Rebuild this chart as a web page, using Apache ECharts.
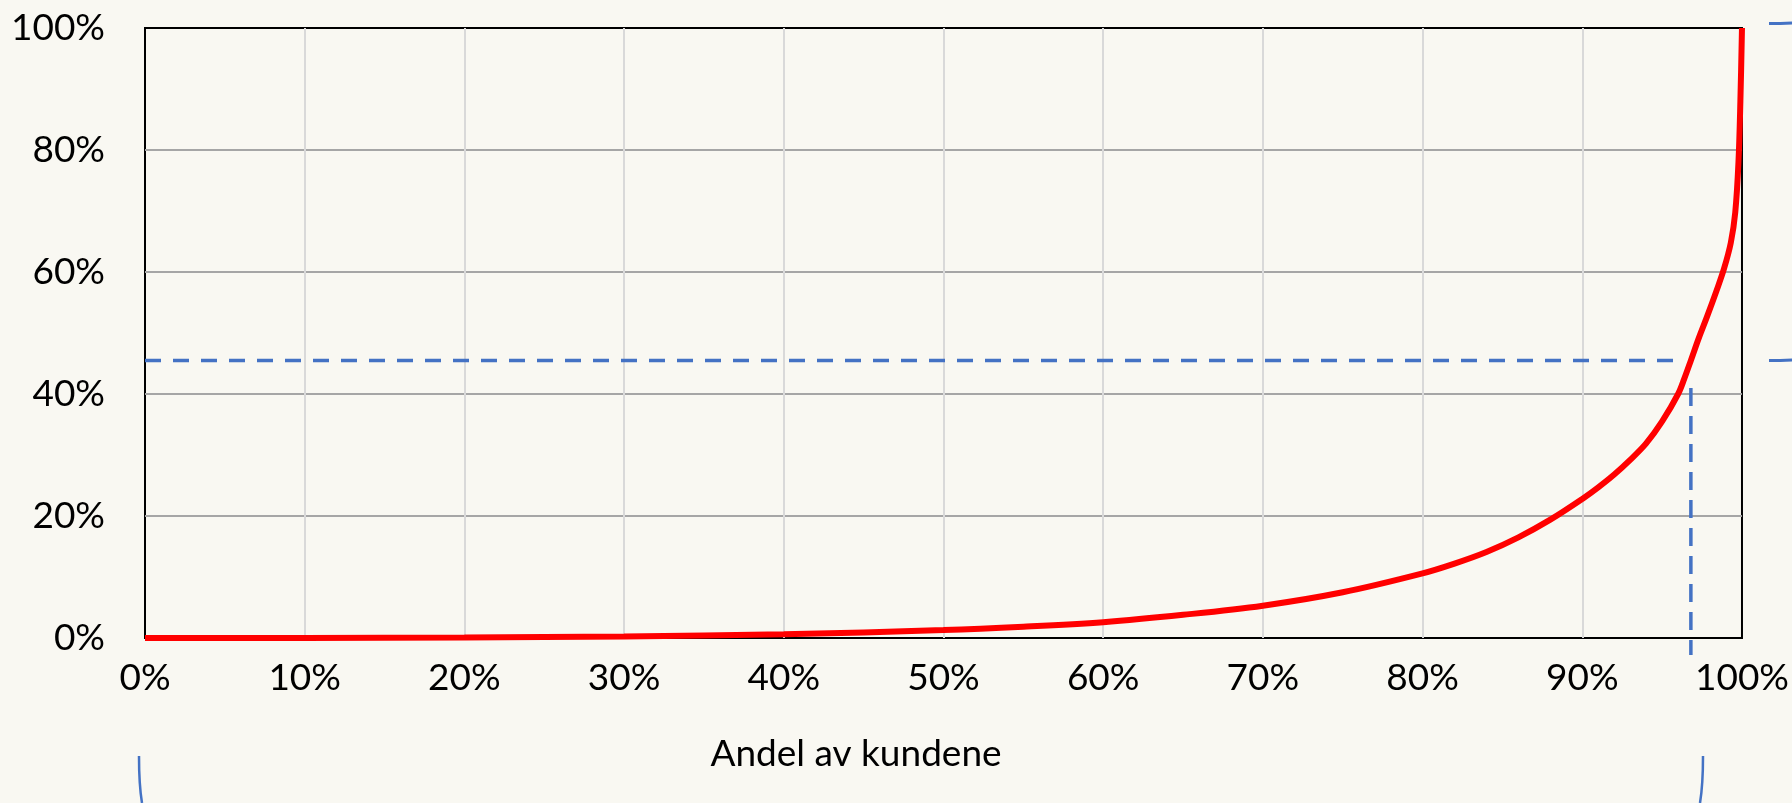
<!DOCTYPE html>
<html>
<head>
<meta charset="utf-8">
<script src="https://cdn.jsdelivr.net/npm/echarts@6/dist/echarts.min.js"></script>
<style>
  html, body { margin: 0; padding: 0; background: #f9f8f2; }
  #chart { width: 1792px; height: 803px; }
</style>
</head>
<body>
<div id="chart"></div>
<script>
// andel av kundene (x, %) og kumulativ andel (y, %)
var customerShare = [0, 10, 20, 30, 40, 50, 55, 60, 65, 70, 75, 80, 82, 84, 86, 88, 90, 91, 92, 93, 94, 95, 96, 96.4, 96.8, 97.3, 97.8, 98.4, 98.87, 99.3, 99.58, 99.78, 99.9, 100];
var cumShare = [0, 0.02, 0.08, 0.25, 0.6, 1.3, 1.85, 2.6, 3.8, 5.3, 7.5, 10.6, 12.2, 14.1, 16.5, 19.4, 22.8, 24.7, 26.8, 29.2, 31.9, 35.5, 40.0, 42.6, 45.5, 49.2, 52.6, 56.9, 60.5, 64.8, 69.8, 78, 88, 100];

// stiplede hjelpelinjer
var guideY = 45.5;
var guideX = 96.8;
var hLine = [[0, guideY], [96.3, guideY]];
var vLine = [[guideX, 41], [guideX, -2.8]];

var xTicks = [0, 10, 20, 30, 40, 50, 60, 70, 80, 90, 100];
var yTicks = [0, 20, 40, 60, 80, 100];

var curve = [];
for (var i = 0; i < customerShare.length; i++) {
    curve.push([customerShare[i], cumShare[i]]);
}

var blue = '#4472c4';
var font = 'Lato, "Open Sans", sans-serif';

var chart = echarts.init(document.getElementById('chart'));
var option = {
    backgroundColor: '#f9f8f2',
    animation: false,
    grid: {
        left: 145,
        top: 28,
        right: 50,
        bottom: 165,
        show: true,
        borderColor: '#000',
        borderWidth: 2,
        backgroundColor: 'transparent'
    },
    xAxis: {
        type: 'value',
        min: xTicks[0],
        max: xTicks[xTicks.length - 1],
        interval: 10,
        axisLine: { show: false },
        axisTick: { show: false },
        axisLabel: {
            formatter: '{value}%',
            color: '#000',
            fontFamily: font,
            fontSize: 37,
            margin: 22
        },
        splitLine: {
            show: true,
            showMinLine: false,
            showMaxLine: false,
            lineStyle: { color: '#d9d9d9', width: 2 }
        }
    },
    yAxis: {
        type: 'value',
        min: yTicks[0],
        max: yTicks[yTicks.length - 1],
        interval: 20,
        axisLine: { show: false },
        axisTick: { show: false },
        axisLabel: {
            formatter: '{value}%',
            color: '#000',
            fontFamily: font,
            fontSize: 37,
            margin: 40
        },
        splitLine: {
            show: true,
            showMinLine: false,
            showMaxLine: false,
            lineStyle: { color: '#a6a6a6', width: 2 }
        }
    },
    graphic: [
        {
            type: 'text',
            x: 856,
            y: 754,
            style: {
                text: 'Andel av kundene',
                fill: '#000',
                font: '37px ' + font,
                textAlign: 'center',
                textVerticalAlign: 'middle'
            }
        },
        // klammer utenfor diagrammet
        {
            type: 'bezierCurve',
            shape: { x1: 1769, y1: 23.5, x2: 1792, y2: 23, cpx1: 1780, cpy1: 23.5 },
            style: { stroke: blue, lineWidth: 3, fill: null }
        },
        {
            type: 'bezierCurve',
            shape: { x1: 1769, y1: 360.5, x2: 1792, y2: 360, cpx1: 1780, cpy1: 360.5 },
            style: { stroke: blue, lineWidth: 3, fill: null }
        },
        {
            type: 'bezierCurve',
            shape: { x1: 139, y1: 756, x2: 142, y2: 803, cpx1: 139, cpy1: 785 },
            style: { stroke: blue, lineWidth: 2.5, fill: null }
        },
        {
            type: 'bezierCurve',
            shape: { x1: 1703, y1: 756, x2: 1700, y2: 803, cpx1: 1703, cpy1: 785 },
            style: { stroke: blue, lineWidth: 2.5, fill: null }
        }
    ],
    series: [
        {
            type: 'line',
            data: hLine,
            symbol: 'none',
            clip: false,
            lineStyle: { color: blue, width: 3.5, type: [16, 12] },
            z: 3
        },
        {
            type: 'line',
            data: vLine,
            symbol: 'none',
            clip: false,
            lineStyle: { color: blue, width: 3.5, type: [18, 10] },
            z: 3
        },
        {
            type: 'line',
            data: curve,
            symbol: 'none',
            smooth: 0.35,
            clip: false,
            lineStyle: { color: '#ff0000', width: 6 },
            z: 4
        }
    ]
};
chart.setOption(option);
</script>
</body>
</html>
